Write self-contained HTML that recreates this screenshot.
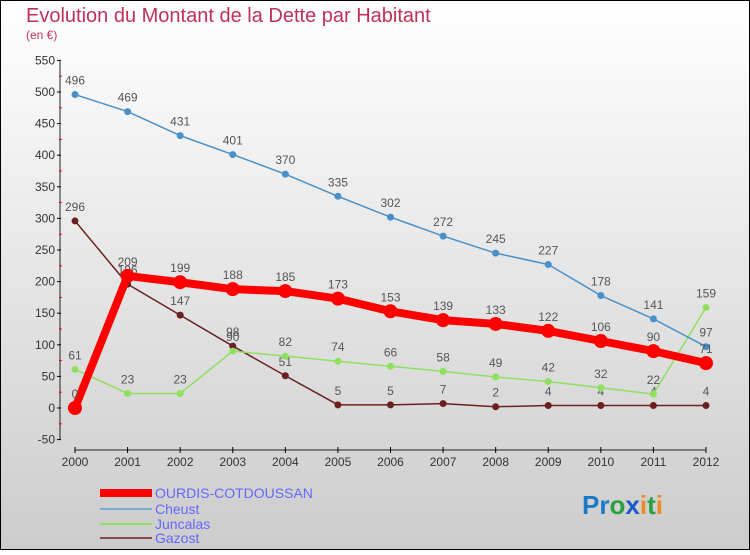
<!DOCTYPE html>
<html><head><meta charset="utf-8"><style>
body{margin:0}
#c{width:750px;height:550px;position:relative;font-family:"Liberation Sans",sans-serif}
</style></head><body>
<div id="c">
<svg id="s" width="750" height="550" xmlns="http://www.w3.org/2000/svg">
<defs><linearGradient id="bg" x1="0" y1="0" x2="0" y2="1"><stop offset="0" stop-color="#ffffff"/><stop offset="1" stop-color="#cccccc"/></linearGradient></defs>
<rect x="0.5" y="0.5" width="749" height="549" fill="url(#bg)" stroke="#000"/>
<text x="26" y="22" font-size="20" fill="#c0305a">Evolution du Montant de la Dette par Habitant</text>
<text x="26" y="39" font-size="12" fill="#c0305a">(en €)</text>
<g id="axes"></g>
<g id="series"></g>
<g>
<rect x="100" y="489" width="52" height="8" fill="#ff0000"/>
<text x="155" y="498" font-size="14" fill="#6666ff">OURDIS-COTDOUSSAN</text>
<line x1="100" y1="509" x2="152" y2="509" stroke="#7aaad0" stroke-width="2"/>
<text x="155" y="514" font-size="14" fill="#6666ff">Cheust</text>
<line x1="100" y1="524" x2="152" y2="524" stroke="#90e060" stroke-width="2"/>
<text x="155" y="529" font-size="14" fill="#6666ff">Juncalas</text>
<line x1="100" y1="538" x2="152" y2="538" stroke="#8a4a4a" stroke-width="2"/>
<text x="155" y="543" font-size="14" fill="#6666ff">Gazost</text>
</g>
<text x="582" y="514" font-size="26" font-weight="bold"><tspan fill="#1a7ac8">Pr</tspan><tspan fill="#2aa040">o</tspan><tspan fill="#1a5ac8">x</tspan><tspan fill="#f08a20">i</tspan><tspan fill="#2aa040">t</tspan><tspan fill="#f08a20">i</tspan></text>
</svg>
</div>
<script>
const years=[2000,2001,2002,2003,2004,2005,2006,2007,2008,2009,2010,2011,2012];
const yTicks=[-50,0,50,100,150,200,250,300,350,400,450,500,550];
const ourdis=[0,209,199,188,185,173,153,139,133,122,106,90,71];
const cheust=[496,469,431,401,370,335,302,272,245,227,178,141,97];
const juncalas=[61,23,23,90,82,74,66,58,49,42,32,22,159];
const gazost=[296,196,147,98,51,5,5,7,2,4,4,4,4];
const NS="http://www.w3.org/2000/svg";
function X(i){return 75+i*(706-75)/(years.length-1);}
function Y(v){return 408-v*(316/500);}
function mk(t,a,p){const e=document.createElementNS(NS,t);for(const k in a)e.setAttribute(k,a[k]);p.appendChild(e);return e;}
const ax=document.getElementById('axes');
const yl=mk('line',{x1:60,y1:Y(550),x2:60,y2:Y(-50),stroke:'#222'},ax);


yTicks.forEach((v,k)=>{
 mk('line',{x1:57,y1:Y(v),x2:61,y2:Y(v),stroke:'#000'},ax);
 if(k<yTicks.length-1) mk('line',{x1:59,y1:Y(v+25),x2:62,y2:Y(v+25),stroke:'#f00'},ax);
 const t=mk('text',{x:55,y:Y(v)+4,'font-size':12,'text-anchor':'end',fill:'#333'},ax);t.textContent=v;
 
 
});
const xl=mk('line',{x1:75,y1:450,x2:706,y2:450,stroke:'#222'},ax);


years.forEach((y,i)=>{
 mk('line',{x1:X(i),y1:447,x2:X(i),y2:453,stroke:'#000'},ax);
 const t=mk('text',{x:X(i),y:466,'font-size':12,'text-anchor':'middle',fill:'#333'},ax);t.textContent=y;
 
 
});
const sg=document.getElementById('series');
function draw(vals,name,color,lw,r,fs){
 const g=mk('g',{},sg);
 
 
 const pl=mk('polyline',{points:vals.map((v,i)=>X(i)+','+Y(v)).join(' '),fill:'none',stroke:color,'stroke-width':lw,'stroke-linejoin':'round'},g);
 
 
 vals.forEach((v,i)=>{
  const c=mk('circle',{cx:X(i),cy:Y(v),r:r,fill:color},g);
  
  
  const t=mk('text',{x:X(i),y:Y(v)-10,'font-size':fs,'text-anchor':'middle',fill:'#555'},g);t.textContent=v;
  
  
 });
}
draw(gazost,'gazost','#6a2020',1.5,3.5,12);
draw(juncalas,'juncalas','#90e060',1.5,3.5,12);
draw(cheust,'cheust','#4a90c8',1.5,3.5,12);
draw(ourdis,'ourdis','#ff0000',8,7,12);
</script>
</body></html>
